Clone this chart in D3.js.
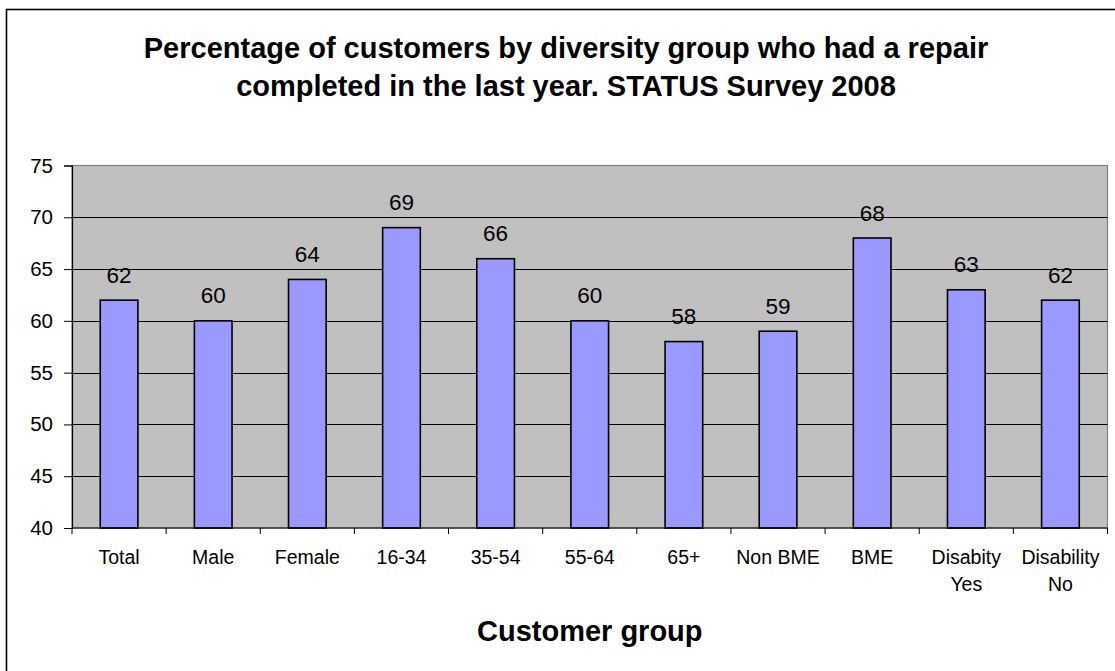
<!DOCTYPE html>
<html>
<head>
<meta charset="utf-8">
<script src="https://cdn.jsdelivr.net/npm/d3@7"></script>
<style>
  html, body { margin: 0; padding: 0; background: #fff; }
  svg { display: block; font-family: "Liberation Sans", Arial, sans-serif; }
</style>
</head>
<body>
<svg id="chart" width="1115" height="671"></svg>
<script>
const categories = ["Total", "Male", "Female", "16-34", "35-54", "55-64", "65+", "Non BME", "BME", "Disabity\nYes", "Disability\nNo"];
const values = [62, 60, 64, 69, 66, 60, 58, 59, 68, 63, 62];
const yTicks = [40, 45, 50, 55, 60, 65, 70, 75];
const titleLines = ["Percentage of customers by diversity group who had a repair", "completed in the last year. STATUS Survey 2008"];
const xTitle = "Customer group";

const svg = d3.select("#chart");
const plot = { left: 72, top: 165.5, right: 1107.5, bottom: 528 };

// outer chart border
svg.append("rect").attr("x", 6.5).attr("y", 9.5).attr("width", 1130).attr("height", 700)
  .attr("fill", "#fff").attr("stroke", "#000").attr("stroke-width", 1.6);

// title
const title = svg.append("text").attr("text-anchor", "middle")
  .attr("font-size", 29).attr("font-weight", "bold").attr("fill", "#000");
titleLines.forEach((t, i) => {
  title.append("tspan").attr("x", 566).attr("y", 58 + i * 38).text(t);
});

const x = d3.scaleBand().domain(categories).range([plot.left, plot.right])
  .paddingInner(0.6).paddingOuter(0.3);
const y = d3.scaleLinear().domain([40, 75]).range([plot.bottom, plot.top]);

// plot background
svg.append("rect").attr("x", plot.left).attr("y", plot.top)
  .attr("width", plot.right - plot.left).attr("height", plot.bottom - plot.top)
  .attr("fill", "#C0C0C0").attr("stroke", "#808080").attr("stroke-width", 1.2);

// gridlines
svg.append("g").selectAll("line").data(yTicks.filter(d => d > 40 && d < 75)).join("line")
  .attr("x1", plot.left).attr("x2", plot.right)
  .attr("y1", d => Math.round(y(d)) + 0.5).attr("y2", d => Math.round(y(d)) + 0.5)
  .attr("stroke", "#000").attr("stroke-width", 1);

// bars
svg.append("g").selectAll("rect").data(values).join("rect")
  .attr("x", (d, i) => x(categories[i]))
  .attr("y", d => y(d))
  .attr("width", x.bandwidth())
  .attr("height", d => y(40) - y(d))
  .attr("fill", "#9999FF").attr("stroke", "#000").attr("stroke-width", 1.6);

// data labels
svg.append("g").selectAll("text").data(values).join("text")
  .attr("x", (d, i) => x(categories[i]) + x.bandwidth() / 2)
  .attr("y", d => y(d) - 17.5)
  .attr("text-anchor", "middle").attr("font-size", 22.5).attr("fill", "#000")
  .text(d => d);

// y axis
const yAxis = svg.append("g").attr("transform", `translate(${plot.left},0)`)
  .call(d3.axisLeft(y).tickValues(yTicks).tickSize(8).tickPadding(11).tickFormat(d3.format("d")));
yAxis.select(".domain").attr("stroke", "#000").attr("stroke-width", 1.2);
yAxis.selectAll(".tick line").attr("stroke", "#000").attr("stroke-width", 1);
yAxis.selectAll(".tick text").attr("font-size", 20.5).attr("fill", "#000")
  .attr("font-family", "Liberation Sans, Arial, sans-serif");

// x axis line
svg.append("line").attr("x1", plot.left).attr("x2", plot.right)
  .attr("y1", plot.bottom).attr("y2", plot.bottom)
  .attr("stroke", "#000").attr("stroke-width", 1.2);

// x ticks at band boundaries
const boundaries = categories.map(c => x(c) - x.step() * x.paddingInner() / 2);
boundaries.push(plot.right);
svg.append("g").selectAll("line").data(boundaries).join("line")
  .attr("x1", d => d).attr("x2", d => d)
  .attr("y1", plot.bottom).attr("y2", plot.bottom + 6)
  .attr("stroke", "#000").attr("stroke-width", 1);

// x tick labels
const xl = svg.append("g").selectAll("text").data(categories).join("text")
  .attr("text-anchor", "middle").attr("font-size", 19.5).attr("fill", "#000");
xl.each(function(c) {
  const cx = x(c) + x.bandwidth() / 2;
  c.split("\n").forEach((line, i) => {
    d3.select(this).append("tspan").attr("x", cx).attr("y", 563.5 + i * 27).text(line);
  });
});

// x axis title
svg.append("text").attr("x", (plot.left + plot.right) / 2).attr("y", 640.5)
  .attr("text-anchor", "middle").attr("font-size", 29).attr("font-weight", "bold")
  .attr("fill", "#000").text(xTitle);
</script>
</body>
</html>
